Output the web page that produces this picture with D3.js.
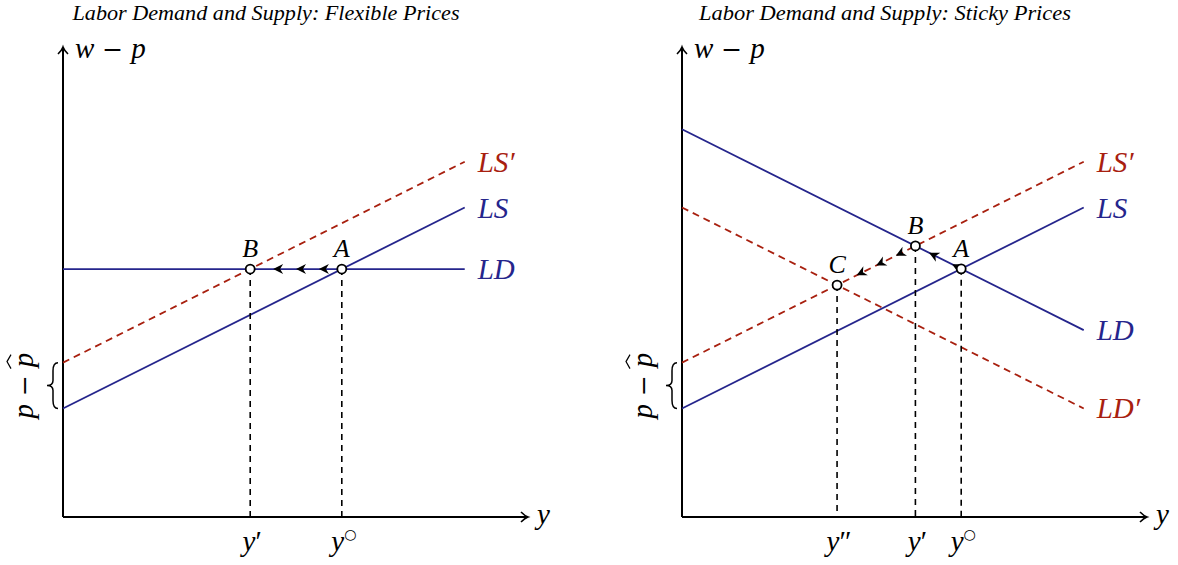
<!DOCTYPE html>
<html>
<head>
<meta charset="utf-8">
<script src="https://cdn.jsdelivr.net/npm/d3@7"></script>
<style>
  body { margin: 0; background: #fff; }
  text { font-family: "Liberation Serif", "DejaVu Serif", serif; }
</style>
</head>
<body>
<svg id="chart" width="1178" height="565"></svg>
<script>
// chart data
const titles = ['Labor Demand and Supply: Flexible Prices', 'Labor Demand and Supply: Sticky Prices'];
// curves: [name, intercept, slope] in axis units, drawn over x in [0, curveEnd]
const curveEnd = 10;
const flexCurves = [['LS′', 3.84, 0.5], ['LS', 2.7, 0.5], ['LD', 6.17, 0]];
const stickyCurves = [['LS′', 3.84, 0.5], ['LS', 2.7, 0.5], ['LD', 9.65, -0.5], ['LD′', 7.7, -0.5]];
// equilibrium points: [label, curve a, curve b, tick label]
const flexPoints = [['A', 'LS', 'LD', 'y°'], ['B', 'LS′', 'LD', 'y′']];
const stickyPoints = [['A', 'LS', 'LD', 'y°'], ['B', 'LS′', 'LD', 'y′'], ['C', 'LS′', 'LD′', 'y″']];
// adjustment paths (sequence of point labels) and arrow positions along each leg
const flexPath = ['A', 'B'];
const stickyPath = ['A', 'B', 'C'];
const arrowFracs = [[0.25, 0.5, 0.75]];
const stickyArrowFracs = [[0.2, 0.7], [0.25, 0.5, 0.75]];
const xAxisMax = 11.55, yAxisMax = 11.67;

const blue = '#25258c', red = '#a8200f';
const styles = {
  'LS': { color: blue, dash: null },
  'LD': { color: blue, dash: null },
  'LS′': { color: red, dash: '7,5' },
  'LD′': { color: red, dash: '7,5' }
};

const svg = d3.select('#chart');

function drawPanel(ox, title, titleW, curves, points, path, fracs) {
  const g = svg.append('g');
  const x = d3.scaleLinear().domain([0, xAxisMax]).range([ox, ox + 464]);
  const y = d3.scaleLinear().domain([0, yAxisMax]).range([517, 48]);
  const cv = {};
  curves.forEach(c => { cv[c[0]] = { b: c[1], m: c[2] }; });

  // title
  g.append('text')
    .attr('x', ox + 203).attr('y', 20)
    .attr('text-anchor', 'middle')
    .attr('font-style', 'italic')
    .attr('font-size', 21)
    .attr('textLength', titleW).attr('lengthAdjust', 'spacingAndGlyphs')
    .text(title);

  // axes
  g.append('line').attr('x1', x(0)).attr('y1', y(0)).attr('x2', x(xAxisMax)).attr('y2', y(0))
    .attr('stroke', '#000').attr('stroke-width', 2);
  g.append('line').attr('x1', x(0)).attr('y1', y(0)).attr('x2', x(0)).attr('y2', y(yAxisMax))
    .attr('stroke', '#000').attr('stroke-width', 2);
  g.append('path')
    .attr('d', `M${x(xAxisMax) - 6},${y(0) - 5} Q${x(xAxisMax) - 2},${y(0) - 1} ${x(xAxisMax) + 1},${y(0)} Q${x(xAxisMax) - 2},${y(0) + 1} ${x(xAxisMax) - 6},${y(0) + 5}`)
    .attr('fill', 'none').attr('stroke', '#000').attr('stroke-width', 1.6);
  g.append('path')
    .attr('d', `M${x(0) - 5},${y(yAxisMax) + 6} Q${x(0) - 1},${y(yAxisMax) + 2} ${x(0)},${y(yAxisMax) - 1} Q${x(0) + 1},${y(yAxisMax) + 2} ${x(0) + 5},${y(yAxisMax) + 6}`)
    .attr('fill', 'none').attr('stroke', '#000').attr('stroke-width', 1.6);

  // axis labels
  const wl = g.append('text').attr('x', x(0) + 12).attr('y', y(yAxisMax) + 10).attr('font-size', 29);
  wl.append('tspan').attr('font-style', 'italic').text('w');
  wl.append('tspan').attr('font-family', 'DejaVu Serif').attr('font-size', 25).text(' − ');
  wl.append('tspan').attr('font-style', 'italic').text('p');
  g.append('text').attr('x', x(xAxisMax) + 10).attr('y', y(0) + 7)
    .attr('font-size', 29).attr('font-style', 'italic').text('y');

  // brace and p - p̂ label between LS and LS' intercepts
  const yTop = y(cv['LS′'].b), yBot = y(cv['LS'].b), ym = (yTop + yBot) / 2;
  const bx = x(0) - 10;
  g.append('path')
    .attr('d', `M${bx + 5},${yTop} C${bx + 1},${yTop} ${bx},${yTop + 3} ${bx},${yTop + 8} L${bx},${ym - 5} C${bx},${ym - 1} ${bx - 2},${ym} ${bx - 6},${ym} C${bx - 2},${ym} ${bx},${ym + 1} ${bx},${ym + 5} L${bx},${yBot - 8} C${bx},${yBot - 3} ${bx + 1},${yBot} ${bx + 5},${yBot}`)
    .attr('fill', 'none').attr('stroke', '#000').attr('stroke-width', 1.5);
  const pl = g.append('text')
    .attr('transform', `translate(${x(0) - 30},${ym}) rotate(-90)`)
    .attr('text-anchor', 'middle').attr('font-size', 29);
  pl.append('tspan').attr('font-style', 'italic').text('p');
  pl.append('tspan').attr('font-family', 'DejaVu Serif').attr('font-size', 25).text(' − ');
  pl.append('tspan').attr('font-style', 'italic').text('p');
  // wide hat over the second p
  g.append('path')
    .attr('transform', `translate(${x(0) - 52},${ym - 24}) rotate(-90)`)
    .attr('d', 'M-7,0 L0,-4 L7,0')
    .attr('fill', 'none').attr('stroke', '#000').attr('stroke-width', 1.2);

  // curves
  curves.forEach(c => {
    const st = styles[c[0]];
    const x1 = curveEnd, y0 = c[1], y1 = c[1] + c[2] * curveEnd;
    g.append('line')
      .attr('x1', x(0)).attr('y1', y(y0)).attr('x2', x(x1)).attr('y2', y(y1))
      .attr('stroke', st.color).attr('stroke-width', 1.8)
      .attr('stroke-dasharray', st.dash);
    g.append('text')
      .attr('x', x(x1) + 13).attr('y', y(y1) + 10)
      .attr('font-size', 29).attr('font-style', 'italic')
      .attr('fill', st.color).text(c[0]);
  });

  // equilibrium points
  const pts = {};
  points.forEach(p => {
    const a = cv[p[1]], b = cv[p[2]];
    const px = (b.b - a.b) / (a.m - b.m);
    pts[p[0]] = { x: px, y: a.b + a.m * px, tick: p[3] };
  });

  // dashed drop lines
  Object.values(pts).forEach(p => {
    g.append('line')
      .attr('x1', x(p.x)).attr('y1', y(p.y)).attr('x2', x(p.x)).attr('y2', y(0))
      .attr('stroke', '#000').attr('stroke-width', 1.6).attr('stroke-dasharray', '6,5');
    const t = g.append('text').attr('x', x(p.x) + 2).attr('y', y(0) + 34)
      .attr('text-anchor', 'middle').attr('font-size', 29);
    t.append('tspan').attr('font-style', 'italic').text('y');
    if (p.tick === 'y°') t.append('tspan').attr('font-family', 'DejaVu Sans').attr('font-size', 14).attr('dy', -12).text('○');
    else t.append('tspan').text(p.tick.slice(1));
  });

  // adjustment arrows
  for (let i = 0; i < path.length - 1; i++) {
    const s = pts[path[i]], e = pts[path[i + 1]];
    const sx = x(s.x), sy = y(s.y), ex = x(e.x), ey = y(e.y);
    const ang = Math.atan2(ey - sy, ex - sx) * 180 / Math.PI;
    fracs[i].forEach(f => {
      g.append('path')
        .attr('transform', `translate(${sx + (ex - sx) * f},${sy + (ey - sy) * f}) rotate(${ang})`)
        .attr('d', 'M0,0 L-10,-5 L-7,0 L-10,5 Z')
        .attr('fill', '#000');
    });
  }

  // point markers and labels
  Object.entries(pts).forEach(([k, p]) => {
    g.append('circle').attr('cx', x(p.x)).attr('cy', y(p.y)).attr('r', 4.5)
      .attr('fill', '#fff').attr('stroke', '#000').attr('stroke-width', 1.8);
    g.append('text').attr('x', x(p.x)).attr('y', y(p.y) - 12)
      .attr('text-anchor', 'middle').attr('font-size', 26).attr('font-style', 'italic').text(k);
  });
}

drawPanel(63, titles[0], 387, flexCurves, flexPoints, flexPath, arrowFracs);
drawPanel(682, titles[1], 372, stickyCurves, stickyPoints, stickyPath, stickyArrowFracs);
</script>
</body>
</html>
